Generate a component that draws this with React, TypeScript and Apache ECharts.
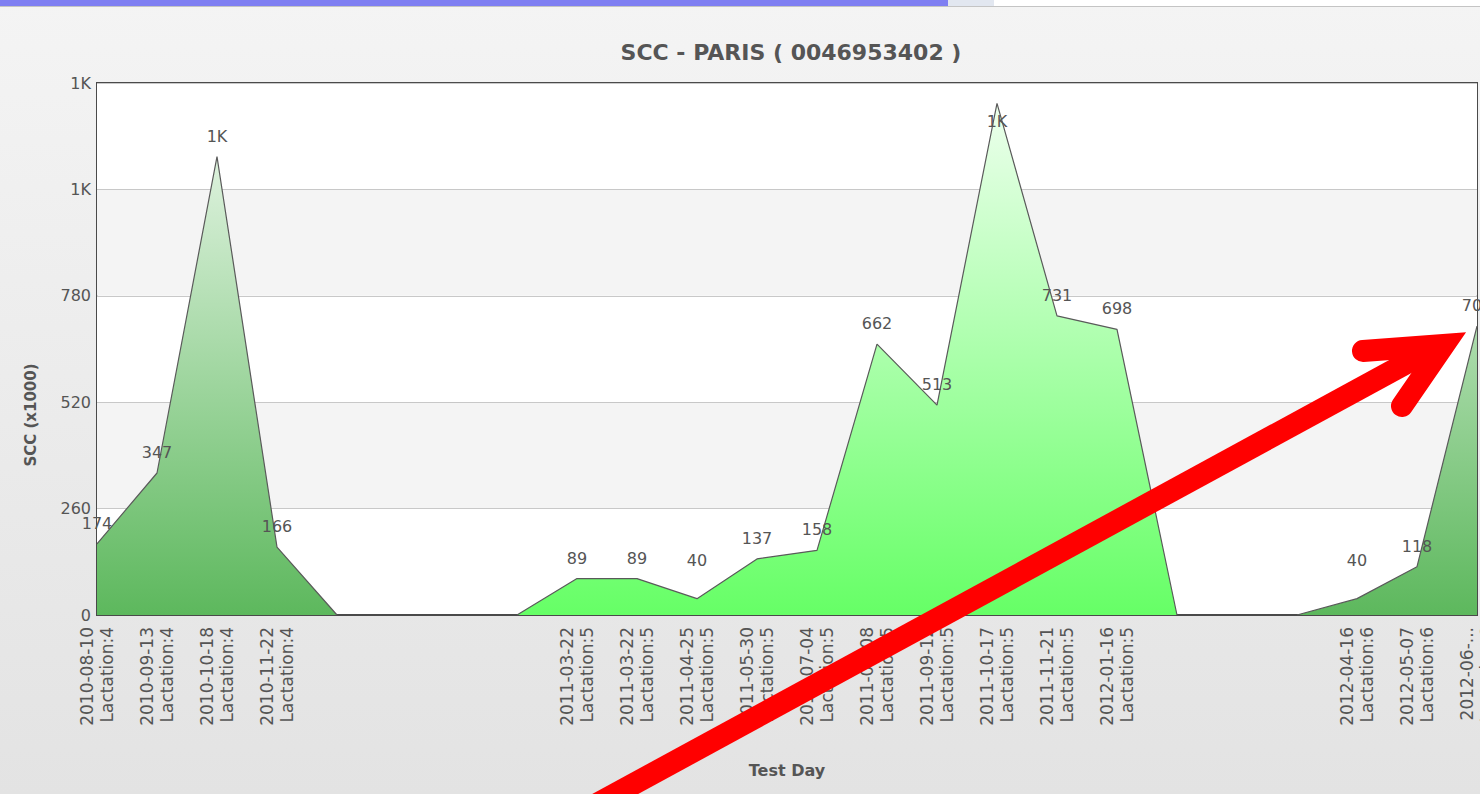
import React, { useEffect, useRef } from "react";
import * as echarts from "echarts";

const testDays = [
  "2010-08-10", "2010-09-13", "2010-10-18", "2010-11-22", "", "", "", "",
  "2011-03-22", "2011-03-22", "2011-04-25", "2011-05-30", "2011-07-04", "2011-08-08",
  "2011-09-12", "2011-10-17", "2011-11-21", "2012-01-16", "", "", "",
  "2012-04-16", "2012-05-07", "2012-06-...",
];
const lactations = [
  "4", "4", "4", "4", "", "", "", "",
  "5", "5", "5", "5", "5", "5", "5", "5", "5", "5", "", "", "",
  "6", "6", "6",
];
const lactation4 = [174, 347, 1120, 166, 0, null, null, null, null, null, null, null, null, null, null, null, null, null, null, null, null, null, null, null];
const lactation5 = [null, null, null, null, null, null, null, 0, 89, 89, 40, 137, 158, 662, 513, 1250, 731, 698, 0, null, null, null, null, null];
const lactation6 = [null, null, null, null, null, null, null, null, null, null, null, null, null, null, null, null, null, null, null, null, 0, 40, 118, 706];
const yTicks = { min: 0, max: 1300, interval: 260 };

const FONT = "DejaVu Sans";

function fmt(v: number) {
  if (v >= 1000) return "1K";
  return String(v);
}

function buildData(values: (number | null)[]) {
  return values.map((v) => {
    if (v == null) return null;
    const item: any = { value: v };
    if (v === 0) item.label = { show: false };
    else if (v >= 1200) item.label = { position: "bottom", distance: 10 };
    else if (v < 60) item.label = { distance: 30 };
    return item;
  });
}

export default function App() {
  const ref = useRef<HTMLDivElement>(null);
  useEffect(() => {
    if (!ref.current) return;
    const chart = echarts.init(ref.current, null, { renderer: "svg" });
    const grad = (bottom: string, top: string) =>
      new echarts.graphic.LinearGradient(0, 83, 0, 615, [
        { offset: 0, color: top },
        { offset: 1, color: bottom },
      ], true);
    const darkArea = grad("#5db85d", "#f2fbf2");
    const brightArea = grad("#66ff66", "#f2fff2");
    const mkSeries = (name: string, values: (number | null)[], area: any) => ({
      name,
      type: "line",
      data: buildData(values),
      showSymbol: true,
      symbol: "circle",
      symbolSize: 1,
      itemStyle: { color: "rgba(0,0,0,0)", borderWidth: 0 },
      lineStyle: { color: "#5a5a5a", width: 1.2 },
      areaStyle: { color: area, opacity: 1 },
      label: {
        show: true,
        position: "top",
        distance: 12,
        fontFamily: FONT,
        fontSize: 16,
        color: "#555",
        formatter: (p: any) => (p.value ? fmt(p.value) : ""),
      },
    });
    const categories = testDays.map((d, i) => (d ? `${d}\nLactation:${lactations[i]}` : ""));
    chart.setOption({
      animation: false,
      backgroundColor: new echarts.graphic.LinearGradient(0, 0, 0, 1, [
        { offset: 0, color: "#f4f4f4" },
        { offset: 1, color: "#e3e3e3" },
      ]),
      title: {
        text: "SCC - PARIS ( 0046953402 )",
        left: 786,
        top: 36,
        textAlign: "center",
        textStyle: { fontFamily: FONT, fontSize: 22, fontWeight: "bold", color: "#555" },
      },
      grid: {
        left: 97,
        right: 3,
        top: 83,
        bottom: 179,
        outerBoundsMode: "none",
        containLabel: false,
        show: true,
        backgroundColor: "#ffffff",
        borderColor: "#4a4a4a",
        borderWidth: 2,
      },
      xAxis: {
        type: "category",
        data: categories,
        boundaryGap: false,
        name: "Test Day",
        nameLocation: "middle",
        nameGap: 147,
        nameTextStyle: { fontFamily: FONT, fontSize: 16, fontWeight: "bold", color: "#555" },
        axisLine: { show: true, lineStyle: { color: "#4a4a4a", width: 2 } },
        axisTick: { show: false },
        axisLabel: {
          interval: 0,
          rotate: 90,
          margin: 12,
          fontFamily: FONT,
          fontSize: 17,
          lineHeight: 20,
          color: "#555",
        },
      },
      yAxis: {
        type: "value",
        min: yTicks.min,
        max: yTicks.max,
        interval: yTicks.interval,
        axisLine: { show: false },
        axisTick: { show: false },
        axisLabel: {
          margin: 6,
          fontFamily: FONT,
          fontSize: 16,
          color: "#555",
          formatter: (v: number) => fmt(v),
        },
        splitLine: { show: true, lineStyle: { color: "#c8c8c8", width: 1 } },
        splitArea: { show: true, areaStyle: { color: ["#ffffff", "#f4f4f4"] } },
      },
      series: [
        mkSeries("Lactation 4", lactation4, darkArea),
        mkSeries("Lactation 5", lactation5, brightArea),
        mkSeries("Lactation 6", lactation6, darkArea),
      ],
      graphic: [
        { type: "rect", left: 0, top: 0, shape: { width: 1480, height: 7 }, style: { fill: "#ffffff" }, z: 10 },
        { type: "rect", left: 0, top: 0, shape: { width: 948, height: 6 }, style: { fill: "#7f7ff2" }, z: 11 },
        { type: "rect", left: 948, top: 0, shape: { width: 46, height: 6 }, style: { fill: "#e2e7f0" }, z: 11 },
        { type: "rect", left: 0, top: 6, shape: { width: 1480, height: 1 }, style: { fill: "#c4c4c4" }, z: 11 },
        {
          type: "text",
          x: 31,
          y: 415,
          rotation: Math.PI / 2,
          style: {
            text: "SCC (x1000)",
            fontFamily: FONT,
            fontSize: 15,
            fontWeight: "bold",
            fill: "#555",
            align: "center",
            verticalAlign: "middle",
          },
          z: 10,
        },
        {
          type: "polyline",
          shape: { points: [[595, 805], [1438, 346]] },
          style: { stroke: "#ff0000", lineWidth: 22, lineCap: "butt", fill: null },
          z: 20,
        },
        {
          type: "polyline",
          shape: { points: [[1363, 351], [1444, 345], [1402, 406]] },
          style: { stroke: "#ff0000", lineWidth: 22, lineCap: "round", lineJoin: "miter", fill: null },
          z: 20,
        },
      ],
    });
    return () => chart.dispose();
  }, []);
  return <div ref={ref} style={{ position: "fixed", left: 0, top: 0, width: 1480, height: 794 }} />;
}
